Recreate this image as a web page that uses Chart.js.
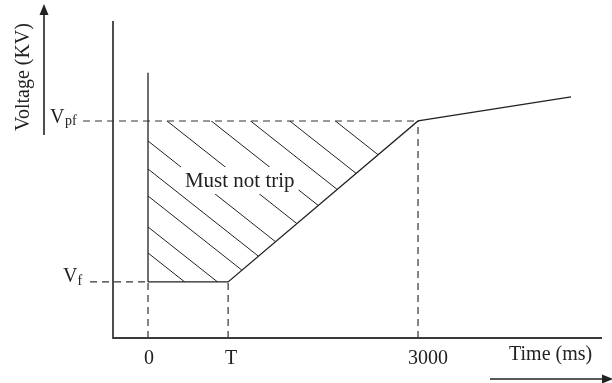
<!DOCTYPE html>
<html>
<head>
<meta charset="utf-8">
<script src="https://cdn.jsdelivr.net/npm/chart.js@4/dist/chart.umd.min.js"></script>
<style>
  html, body { margin: 0; padding: 0; background: #fff; }
  canvas { display: block; }
</style>
</head>
<body>
<canvas id="grafico" width="612" height="383"></canvas>
<script>
// valores simbólicos: tiempo en ms, tensión en kV
const T_MS = 890;
const V_F = 10;
const V_PF = 30;

// curva de tensión frente al tiempo
const curvaTiempo = [0, T_MS, 3000, 4700];
const curvaTension = [V_F, V_F, V_PF, 33];

// ejes
const tiempoTicks = [0, T_MS, 3000];
const tiempoEtiquetas = ['0', 'T', '3000'];
const ejeX = [-389, 5044];
const ejeY = [3.04, 42.42];
const topeLineaCero = 36;

const TINTA = '#222';
const FUENTE = '"Liberation Serif", "DejaVu Serif", serif';

// desplazamientos (px) de las rayas del sombreado respecto a la esquina (0, Vf)
const rayas = [-29, -55, -86, -113, -141, -176, -211, -242, -273, -309];

const puntos = (xs, ys) => xs.map((x, i) => ({ x: x, y: ys[i] }));

const discontinua = (data) => ({
  data: data,
  borderColor: '#333',
  borderWidth: 1.2,
  borderDash: [7, 5],
  clip: false
});

// rayado de la zona "Must not trip" y textos/flechas
const dibujoPlugin = {
  id: 'dibujo',
  beforeDatasetsDraw(chart) {
    const ctx = chart.ctx;
    const sx = chart.scales.x, sy = chart.scales.y;
    const x0 = sx.getPixelForValue(0), xT = sx.getPixelForValue(T_MS);
    const x3 = sx.getPixelForValue(3000);
    const yF = sy.getPixelForValue(V_F), yPF = sy.getPixelForValue(V_PF);

    ctx.save();
    ctx.font = '21px ' + FUENTE;
    const tx = sx.getPixelForValue(410), ty = sy.getPixelForValue(21.8);
    const w = ctx.measureText('Must not trip').width;

    ctx.beginPath();
    ctx.moveTo(x0, yPF);
    ctx.lineTo(x3, yPF);
    ctx.lineTo(xT, yF);
    ctx.lineTo(x0, yF);
    ctx.closePath();
    ctx.clip();
    // hueco para el texto
    ctx.beginPath();
    ctx.rect(0, 0, chart.width, chart.height);
    ctx.rect(tx - 4, ty - 20, w + 8, 27);
    ctx.clip('evenodd');

    ctx.strokeStyle = TINTA;
    ctx.lineWidth = 1;
    const pendiente = 0.79;
    rayas.forEach(c => {
      ctx.beginPath();
      ctx.moveTo(x0 - 20, yF + c - 20 * pendiente);
      ctx.lineTo(x0 + 400, yF + c + 400 * pendiente);
      ctx.stroke();
    });
    ctx.restore();

    ctx.save();
    ctx.fillStyle = TINTA;
    ctx.font = '21px ' + FUENTE;
    ctx.fillText('Must not trip', tx, ty);
    ctx.restore();
  },
  afterDraw(chart) {
    const ctx = chart.ctx;
    const area = chart.chartArea;
    const sx = chart.scales.x, sy = chart.scales.y;
    const yF = sy.getPixelForValue(V_F), yPF = sy.getPixelForValue(V_PF);

    ctx.save();
    // ejes en L
    ctx.strokeStyle = '#3a3a3a';
    ctx.lineWidth = 1.8;
    ctx.beginPath();
    ctx.moveTo(area.left, area.top);
    ctx.lineTo(area.left, area.bottom);
    ctx.lineTo(area.right, area.bottom);
    ctx.stroke();

    // flecha de tensión
    ctx.strokeStyle = TINTA;
    ctx.fillStyle = TINTA;
    ctx.lineWidth = 1.6;
    ctx.beginPath();
    ctx.moveTo(44, 135);
    ctx.lineTo(44, 12);
    ctx.stroke();
    ctx.beginPath();
    ctx.moveTo(44, 4);
    ctx.lineTo(39.5, 15);
    ctx.lineTo(48.5, 15);
    ctx.closePath();
    ctx.fill();

    // flecha de tiempo
    ctx.beginPath();
    ctx.moveTo(490, 379);
    ctx.lineTo(604, 379);
    ctx.stroke();
    ctx.beginPath();
    ctx.moveTo(613, 379);
    ctx.lineTo(602, 374.5);
    ctx.lineTo(602, 383.5);
    ctx.closePath();
    ctx.fill();

    // títulos
    ctx.font = '20px ' + FUENTE;
    ctx.textAlign = 'left';
    ctx.fillText('Time (ms)', 509, 360);
    ctx.save();
    ctx.translate(29, 77);
    ctx.rotate(-Math.PI / 2);
    ctx.textAlign = 'center';
    ctx.fillText('Voltage (KV)', 0, 0);
    ctx.restore();

    // etiquetas del eje de tiempo
    ctx.textAlign = 'center';
    const ajuste = [1, 3, 10];
    tiempoTicks.forEach((v, i) => {
      ctx.fillText(tiempoEtiquetas[i], sx.getPixelForValue(v) + ajuste[i], 364);
    });

    // etiquetas de tensión con subíndice
    ctx.textAlign = 'left';
    ctx.font = '20px ' + FUENTE;
    ctx.fillText('V', 50, yPF + 2);
    ctx.fillText('V', 63, yF);
    ctx.font = '14px ' + FUENTE;
    ctx.fillText('pf', 65, yPF + 4);
    ctx.fillText('f', 77.5, yF + 3);
    ctx.restore();
  }
};

new Chart(document.getElementById('grafico'), {
  type: 'line',
  data: {
    datasets: [
      {
        data: puntos(curvaTiempo, curvaTension),
        borderColor: TINTA,
        borderWidth: 1.3
      },
      {
        data: puntos([0, 0], [V_F, topeLineaCero]),
        borderColor: TINTA,
        borderWidth: 1.3
      },
      discontinua(puntos([-722, 3000], [V_PF, V_PF])),
      discontinua(puntos([-644, 0], [V_F, V_F])),
      discontinua(puntos([0, 0], [ejeY[0], V_F])),
      discontinua(puntos([T_MS, T_MS], [ejeY[0], V_F])),
      discontinua(puntos([3000, 3000], [ejeY[0], V_PF]))
    ]
  },
  options: {
    responsive: false,
    animation: false,
    devicePixelRatio: 1,
    layout: { padding: { left: 113, right: 10, top: 21, bottom: 45 } },
    scales: {
      x: { type: 'linear', min: ejeX[0], max: ejeX[1], display: false },
      y: { type: 'linear', min: ejeY[0], max: ejeY[1], display: false }
    },
    elements: { point: { radius: 0 }, line: { tension: 0 } },
    plugins: { legend: { display: false }, tooltip: { enabled: false } }
  },
  plugins: [dibujoPlugin]
});
</script>
</body>
</html>
